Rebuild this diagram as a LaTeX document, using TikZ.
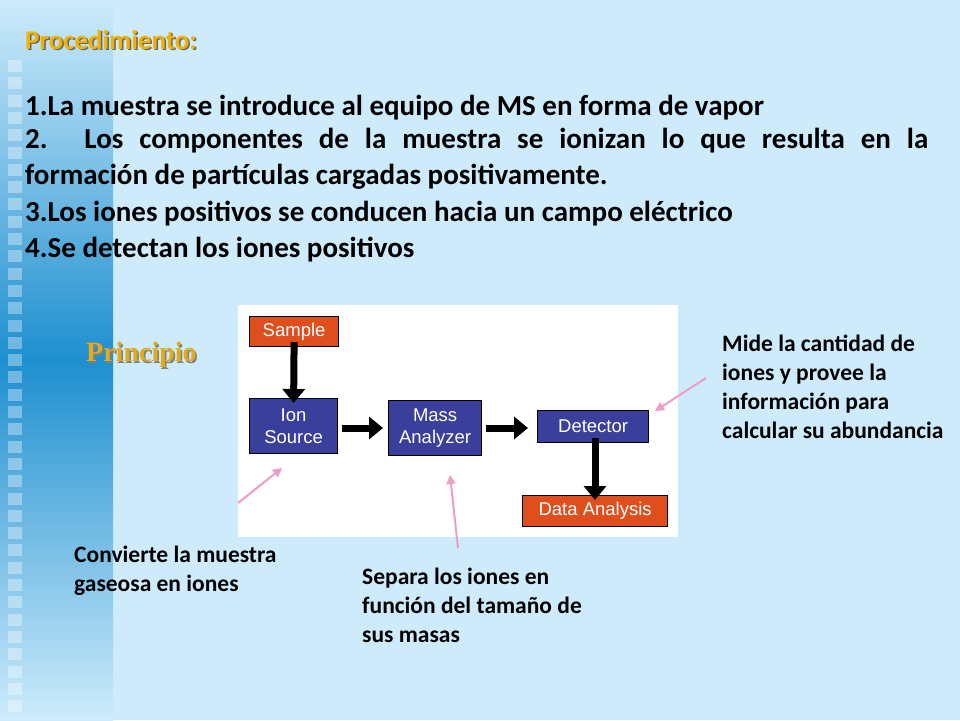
\documentclass[tikz,border=0pt]{standalone}
\usepackage{fontspec}
\setmainfont{Carlito}
\newfontfamily\serifb{Liberation Serif}
\newfontfamily\arialf{Liberation Sans}
\usetikzlibrary{arrows.meta,shadings}
\definecolor{bgblue}{HTML}{CDEBFB}
\definecolor{bandmid}{HTML}{1E8FCF}
\definecolor{boxblue}{HTML}{3A3F9C}
\definecolor{boxred}{HTML}{E04E1E}
\definecolor{pinkar}{HTML}{F09CC8}
\definecolor{gold}{HTML}{F2B203}
\definecolor{goldp}{HTML}{E3AA1A}
\tikzset{
  blk/.style={draw=black,line width=1.2pt,fill=boxblue,text=white,font=\arialf\fontsize{18.5}{22}\selectfont,align=center,inner sep=0pt,anchor=north west},
  rblk/.style={blk,fill=boxred},
  fat/.style={-{Triangle[length=14pt,width=22pt]},line width=7pt},
  pk/.style={-{Triangle[length=9pt,width=9pt]},pinkar,line width=2pt},
  txt/.style={font=\bfseries\fontsize{29}{36}\selectfont,anchor=west,inner sep=0pt},
  ann/.style={font=\bfseries\fontsize{23.5}{29}\selectfont,align=left,anchor=north west,inner sep=0pt}
}
\begin{document}
\begin{tikzpicture}[x=1pt,y=-1pt]
\useasboundingbox (0,0) rectangle (960,720);
\fill[bgblue] (0,0) rectangle (960,720);
\fill[top color=bgblue,bottom color=bandmid] (0,0) rectangle (113,360);
\fill[top color=bandmid,bottom color=bgblue] (0,360) rectangle (113,720);
\foreach \i in {0,...,37} {\fill[white,opacity=0.35] (8,{60+\i*17.3}) rectangle (22,{72+\i*17.3});}
\node[font=\bfseries\fontsize{27}{30}\selectfont,text=black!60,anchor=west,inner sep=0pt] at (26.5,41.5) {Procedimiento:};
\node[font=\bfseries\fontsize{27}{30}\selectfont,text=gold,anchor=west,inner sep=0pt] (proc) at (25,40) {Procedimiento:};
\node[txt] (l1) at (25,108) {1.La muestra se introduce al equipo de MS en forma de vapor};
\node[txt,anchor=north west,text width=903pt,align=justify] (l2) at (25,128) {2. Los componentes de la muestra se ionizan lo que resulta en la\linebreak formación de partículas cargadas positivamente.};
\node[txt] (l3) at (25,214) {3.Los iones positivos se conducen hacia un campo eléctrico};
\node[txt] (l4) at (25,250) {4.Se detectan los iones positivos};
\node[font=\serifb\bfseries\fontsize{28}{30}\selectfont,text=black!50,anchor=west,inner sep=0pt] at (87.5,357) {Principio};
\node[font=\serifb\bfseries\fontsize{28}{30}\selectfont,text=goldp,anchor=west,inner sep=0pt] (pr) at (86,355) {Principio};
\fill[white] (238,305) rectangle (678,537);
\node[rblk,minimum width=89pt,minimum height=30pt] (s) at (249,316) {Sample};
\node[blk,minimum width=88pt,minimum height=55pt] (ion) at (249,398) {Ion\\Source};
\node[blk,minimum width=93pt,minimum height=55pt] (ma) at (388,400) {Mass\\Analyzer};
\node[blk,minimum width=111pt,minimum height=32pt] (det) at (537,410) {Detector};
\node[rblk,minimum width=145pt,minimum height=31pt] (da) at (522,495) {Data Analysis};
\draw[fat] ([yshift=5pt]s.south) -- ([yshift=-5pt]ion.north);
\draw[fat] ([xshift=4pt]ion.east|-0,428) -- ([xshift=-5pt]ma.west|-0,428);
\draw[fat] ([xshift=4pt]ma.east|-0,428) -- ([xshift=-9pt]det.west|-0,428);
\draw[fat] ([yshift=5pt]det.south-|595,0) -- ([yshift=-5pt]da.north-|595,0);
\node[ann] (a1) at (74,546) {Convierte la muestra\\gaseosa en iones};
\node[ann] (a2) at (362,568) {Separa los iones en\\función del tamaño de\\sus masas};
\node[ann] (a3) at (722,335) {Mide la cantidad de\\iones y provee la\\información para\\calcular su abundancia};
\coordinate (p1) at (238,503); \coordinate (q1) at (282,468);
\coordinate (p2) at (458,548); \coordinate (q2) at (450,475);
\coordinate (p3) at (706,378); \coordinate (q3) at (655,411);
\draw[pk] (p1) -- (q1);
\draw[pk] (p2) -- (q2);
\draw[pk] (p3) -- (q3);
\end{tikzpicture}
\end{document}
